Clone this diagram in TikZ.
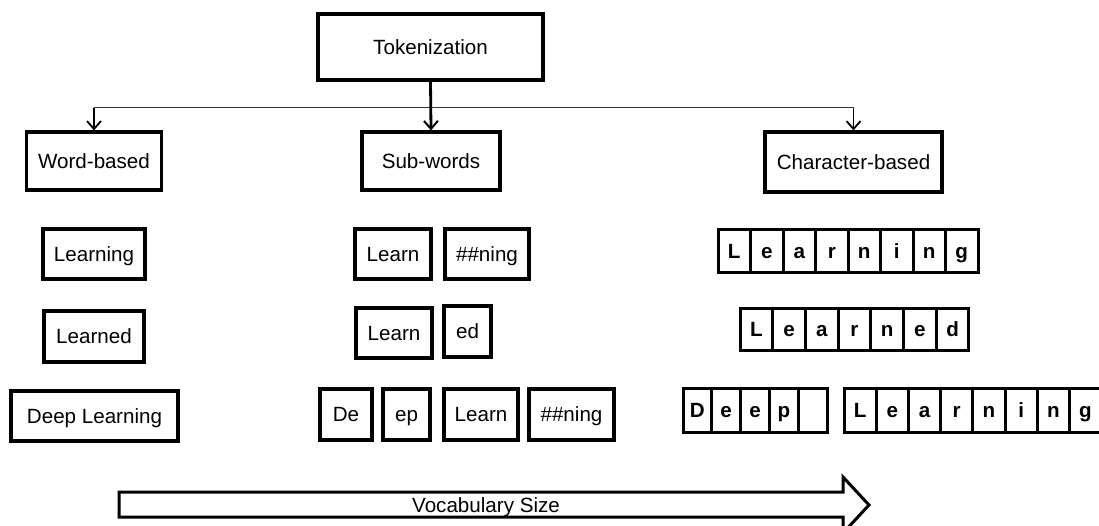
\documentclass[tikz,border=0pt]{standalone}
\usepackage{fontspec}
\setmainfont{Liberation Sans}
\usetikzlibrary{arrows.meta,calc}
\begin{document}
\begin{tikzpicture}[x=1pt,y=-1pt,
  every node/.style={font=\fontsize{20.6}{24}\selectfont, inner sep=0pt, text height=14.7pt, text depth=0pt},
  box/.style={draw=black, line width=3.2pt, fill=white},
  cell/.style={draw=black, line width=3pt, font=\fontsize{20.6}{24}\selectfont\bfseries},
  trunk/.style={line width=2.8pt, -{Straight Barb[length=8pt,width=14pt,line width=2pt]}},
  branch/.style={line width=1.6pt, draw=black!80},
  barb/.style={line width=1.8pt, -{Straight Barb[length=8pt,width=14pt,line width=1.8pt]}},
  bigarrow/.style={draw=black, line width=3pt, line join=miter}]
\useasboundingbox (0,0) rectangle (1099,526);

% top level
\node[box, minimum width=225pt, minimum height=66pt] (tok) at (430.5,47) {Tokenization};
\node[box, minimum width=135pt, minimum height=58pt] (word) at (94,161) {Word-based};
\node[box, minimum width=138pt, minimum height=58pt] (sub) at (431,161) {Sub-words};
\node[box, minimum width=177pt, minimum height=60pt] (char) at (853.5,162) {Character-based};

% connectors
\coordinate (jn) at ($(tok.south)+(0,26)$);
\coordinate (jl) at (jn -| word.north);
\coordinate (jr) at (jn -| char.north);
\draw[branch] (jl) -- (jr);
\draw[barb] (jl) -- (word.north);
\draw[barb] (jr) -- (char.north);
\draw[trunk] (tok.south) -- (sub.north);

% word-based column
\node[box, minimum width=102pt, minimum height=50pt] (w1) at (94,254) {Learning};
\node[box, minimum width=100pt, minimum height=51pt] (w2) at (94,336.5) {Learned};
\node[box, minimum width=167pt, minimum height=50pt] (w3) at (94.5,416) {Deep Learning};

% sub-words column
\node[box, minimum width=76pt, minimum height=50pt] (s1) at (393,254) {Learn};
\node[box, minimum width=84pt, minimum height=50pt] (s2) at (487,254) {\#\#ning};
\node[box, minimum width=76pt, minimum height=50pt] (s3) at (394,333) {Learn};
\node[box, minimum width=47pt, minimum height=51pt] (s4) at (467.5,331.5) {ed};
\node[box, minimum width=52pt, minimum height=51pt] (s5) at (346,414.5) {De};
\node[box, minimum width=47pt, minimum height=51pt] (s6) at (406.5,414.5) {ep};
\node[box, minimum width=74pt, minimum height=51pt] (s7) at (481,414.5) {Learn};
\node[box, minimum width=85pt, minimum height=51pt] (s8) at (571.5,414.5) {\#\#ning};

% character-based column
\foreach \ch [count=\i] in {L,e,a,r,n,i,n,g}
  \node[cell, minimum width=32.5pt, minimum height=43pt] (ca\i) at ({718+32.5*(\i-0.5)},251.5) {\ch};
\foreach \ch [count=\i] in {L,e,a,r,n,e,d}
  \node[cell, minimum width=32.7pt, minimum height=42pt] (cb\i) at ({740+32.7*(\i-0.5)},329) {\ch};
\foreach \ch [count=\i] in {D,e,e,p,{}}
  \node[cell, minimum width=28.8pt, minimum height=44pt] (cc\i) at ({683+28.8*(\i-0.5)},410) {\ch};
\foreach \ch [count=\i] in {L,e,a,r,n,i,n,g}
  \node[cell, minimum width=32.2pt, minimum height=44pt] (cd\i) at ({844+32.2*(\i-0.5)},410) {\ch};

% vocabulary size arrow
\draw[bigarrow] (119,492) -- (843,492) -- (843,477) -- (869,505) -- (843,533) -- (843,517) -- (119,517) -- cycle;
\node (vocab) at (486,505) {Vocabulary Size};
\end{tikzpicture}
\end{document}
